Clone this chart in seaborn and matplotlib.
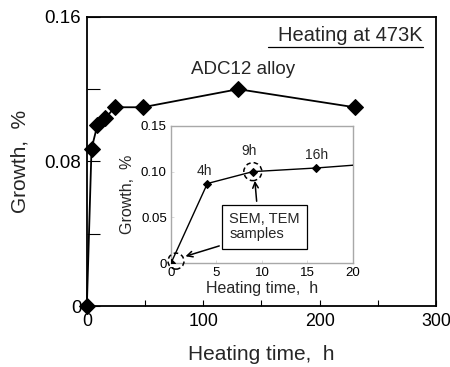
import matplotlib
matplotlib.use("Agg")
import matplotlib.pyplot as plt
import seaborn as sns
import pandas as pd
from matplotlib.patches import Ellipse

# ---- data ----
time_h = [0, 4, 9, 16, 24, 48, 130, 230]
growth = [0.0, 0.087, 0.100, 0.104, 0.110, 0.110, 0.120, 0.110]

main_xticks = [0, 50, 100, 150, 200, 250, 300]
main_xticklabels = ["0", "", "100", "", "200", "", "300"]
main_yticks = [0, 0.04, 0.08, 0.12, 0.16]
main_yticklabels = ["0", "", "0.08", "", "0.16"]

inset_xticks = [0, 5, 10, 15, 20]
inset_xticklabels = ["0", "5", "10", "15", "20"]
inset_yticks = [0, 0.05, 0.10, 0.15]
inset_yticklabels = ["0", "0.05", "0.10", "0.15"]

point_labels = ["4h", "9h", "16h"]
point_label_times = [4, 9, 16]

df = pd.DataFrame({"time": time_h, "growth": growth})

sns.set_style("ticks")
plt.rcParams["font.family"] = ["Liberation Sans", "DejaVu Sans"]

fig = plt.figure(figsize=(4.5, 3.67), dpi=100)
ax = fig.add_axes([0.193, 0.166, 0.776, 0.788])

sns.lineplot(data=df, x="time", y="growth", ax=ax, color="black", lw=1.3,
             marker="D", markersize=8.5, markeredgecolor="black", markerfacecolor="black",
             clip_on=False, zorder=5)
ax.set_xlim(0, 300)
ax.set_ylim(0, 0.16)
ax.set_xticks(main_xticks)
ax.set_xticklabels(main_xticklabels, fontsize=12.8)
ax.set_yticks(main_yticks)
ax.set_yticklabels(main_yticklabels, fontsize=13.5)
ax.tick_params(axis="y", direction="in", length=9, width=0.8, pad=4, colors="black")
ax.tick_params(axis="x", direction="in", length=4, width=0.8, pad=5, colors="black")
for s in ax.spines.values():
    s.set_linewidth(1.3)
    s.set_color("black")
ax.set_xlabel("Heating time,  h", fontsize=15, labelpad=11)
ax.set_ylabel("Growth,  %", fontsize=15, labelpad=11)

ax.text(0.962, 0.934, "Heating at 473K", transform=ax.transAxes, ha="right", va="center",
        fontsize=14.5)
# underline
ax.plot([0.52, 0.962], [0.895, 0.895], transform=ax.transAxes, color="black", lw=0.9, clip_on=False)
ax.text(0.447, 0.817, "ADC12 alloy", transform=ax.transAxes, ha="center", va="center", fontsize=13.5)

# ---- inset ----
ins = fig.add_axes([0.38, 0.283, 0.404, 0.374])
sns.lineplot(data=df, x="time", y="growth", ax=ins, color="black", lw=1.0,
             marker="D", markersize=4.5, markeredgecolor="black", markerfacecolor="black",
             zorder=5)
ins.set_xlim(0, 20)
ins.set_ylim(0, 0.15)
ins.set_xticks(inset_xticks)
ins.set_xticklabels(inset_xticklabels, fontsize=9.5)
ins.set_yticks(inset_yticks)
ins.set_yticklabels(inset_yticklabels, fontsize=9.5)
ins.tick_params(direction="in", length=2, width=0.5, colors="#cccccc", labelcolor="black", pad=3)
for s in ins.spines.values():
    s.set_linewidth(1.0)
    s.set_color("#a8a8a8")
ins.set_xlabel("Heating time,  h", fontsize=11.5, labelpad=1)
ins.set_ylabel("Growth,  %", fontsize=11.5, labelpad=4)

label_offsets = [(-2.5, 9), (-2.5, 14.5), (0, 9)]
for lab, t, off in zip(point_labels, point_label_times, label_offsets):
    g = growth[time_h.index(t)]
    ins.annotate(lab, (t, g), xytext=off, textcoords="offset points",
                 ha="center", va="center", fontsize=10)

# dashed circles
circle_specs = [(0, (5, 2), 16), (9, (0, 0), 18)]
for t, (dx, dy), d in circle_specs:
    g = growth[time_h.index(t)]
    px, py = ins.transData.transform((t, g))
    circ = Ellipse((px + dx, py + dy), d, d, transform=None, fill=False, ls=(0, (3, 2)), lw=1.1,
                   ec="black", zorder=6, clip_on=False)
    fig.add_artist(circ)

# box annotation
ins.text(0.516, 0.266, "SEM, TEM\nsamples", transform=ins.transAxes, ha="center", va="center",
         multialignment="left", fontsize=10.5, linespacing=1.15,
         bbox=dict(boxstyle="square,pad=0.5", fc="white", ec="black", lw=0.9), zorder=7)
ins.annotate("", xy=(9.2, 0.093), xytext=(9.45, 0.0646),
             arrowprops=dict(arrowstyle="->", lw=1.1, color="black"), zorder=7)
ins.annotate("", xy=(1.3, 0.0066), xytext=(5.6, 0.0197),
             arrowprops=dict(arrowstyle="->", lw=1.1, color="black"), zorder=7)

fig.savefig("out.png", dpi=100)
